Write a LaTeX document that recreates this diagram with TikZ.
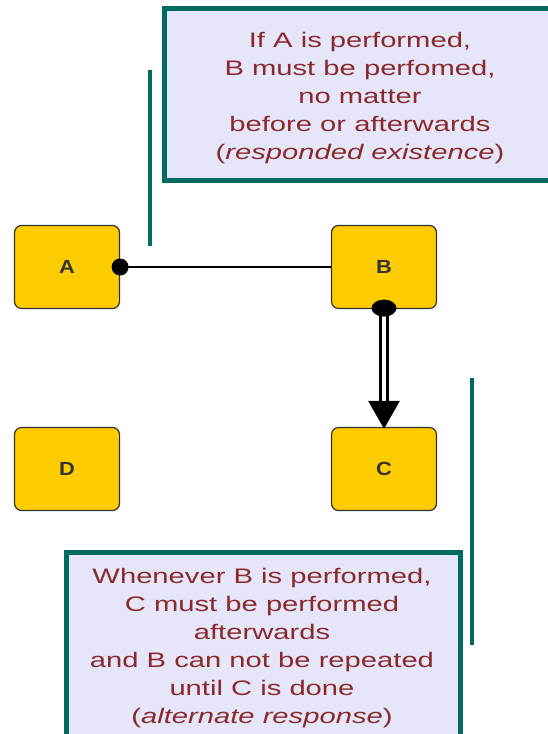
\documentclass[tikz,border=0pt]{standalone}
\usepackage{fontspec}
\usepackage{graphicx}
\setmainfont{Liberation Sans}
\usetikzlibrary{arrows.meta,shapes.geometric}
\definecolor{teal1}{HTML}{006B63}
\definecolor{lav}{HTML}{E6E6FA}
\definecolor{txtred}{HTML}{8B2A2A}
\definecolor{act}{HTML}{FFCC00}
\newcommand{\wide}[1]{\scalebox{1.39}[1]{\begin{tabular}{@{}c@{}}#1\end{tabular}}}
\begin{document}
\begin{tikzpicture}[x=1pt,y=-1pt,
  activity/.style={draw=black!80, line width=1.2, fill=act, rounded corners=7, minimum width=105, minimum height=83, inner sep=0, font=\fontsize{19}{22}\selectfont\bfseries, text=black!80},
  notetext/.style={align=center, text=txtred, inner sep=0, font=\fontsize{21}{28}\selectfont},
  noteframe/.style={draw=teal1, line width=5, fill=lav},
  leader/.style={draw=teal1, line width=3.5},
  dotc/.style={fill=black, circle, inner sep=0, minimum size=17}]
\useasboundingbox (0,0) rectangle (547,734);
\fill[white] (0,0) rectangle (547,734);
% activities
\node[activity] (A) at (67,267) {\scalebox{1.15}[1]{A}};
\node[activity] (B) at (384,267) {\scalebox{1.15}[1]{B}};
\node[activity] (D) at (67,469) {\scalebox{1.15}[1]{D}};
\node[activity] (C) at (384,469) {\scalebox{1.15}[1]{C}};
% note boxes
\draw[noteframe] (164,8) rectangle (560,180);
\node[notetext] (n1) at (360,98)
 {\wide{If A is performed,\\B must be perfomed,\\no matter\\before or afterwards\\(\textit{responded existence})}};
\draw[noteframe] (66,552) rectangle (460,745);
\node[notetext] (n2) at (262,648)
 {\wide{Whenever B is performed,\\C must be performed\\afterwards\\and B can not be repeated\\until C is done\\(\textit{alternate response})}};
% leader lines
\coordinate (l1a) at (150,70); \coordinate (l1b) at (150,246);
\draw[leader] (l1a) -- (l1b);
\coordinate (l2a) at (472,378); \coordinate (l2b) at (472,645);
\draw[leader] (l2a) -- (l2b);
% connectors
\draw[line width=2.5, black] (A.east) -- (B.west);
\node[dotc] (dA) at (A.east) {};
\draw[double=white, double distance=3.5, line width=2.8, -{Triangle[length=28, width=31]}] ([yshift=4]B.south) -- ([yshift=-2]C.north);
\node[fill=black, ellipse, inner sep=0, minimum width=25, minimum height=17] (dB) at ([yshift=1]B.south) {};
\end{tikzpicture}
\end{document}
